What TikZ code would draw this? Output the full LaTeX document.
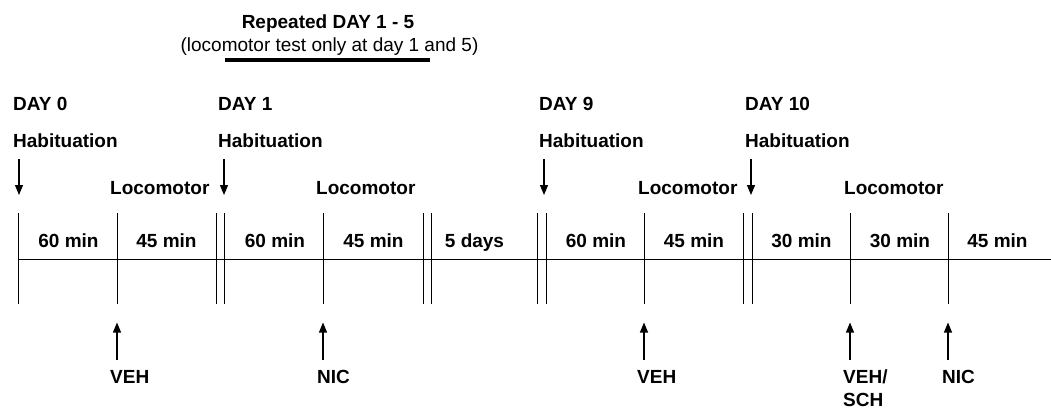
\documentclass[tikz,border=0pt]{standalone}
\usepackage{fontspec}
\setmainfont{Liberation Sans}
\usetikzlibrary{arrows.meta}

\tikzset{
	txt/.style={font=\fontsize{19}{23}\selectfont\bfseries, inner sep=0pt},
	lbl/.style={txt, anchor=base west},
	seg/.style={txt, anchor=base},
	tick/.style={line width=1pt},
	sessarrow/.style={line width=1.1pt, -{Triangle[length=10pt,width=8pt]}}
}

\begin{document}
\begin{tikzpicture}[x=1pt,y=-1pt]

	% ---- frame

	\useasboundingbox (0,0) rectangle (1051,408);

	% ---- parameters

	\def\ytop{213}
	\def\ybot{304}
	\def\yaxis{259}

	% ---- ticks

	\foreach \x [count=\i] in {18,117,216,224,323,423,431,537,546,644,743,752,850,948} {
		\coordinate (T\i) at (\x,\ytop);
		\coordinate (B\i) at (\x,\ybot);
		\draw[tick] (T\i) -- (B\i);
	}

	% ---- time axis

	\coordinate (A0) at (18,\yaxis);
	\coordinate (A1) at (1051,\yaxis);
	\draw[tick] (A0) -- (A1);

	% ---- intervals

	\foreach \x/\t [count=\i] in {68.5/60 min,166.5/45 min,275/60 min,373.5/45 min,474.5/5 days,
		596/60 min,694/45 min,801.5/30 min,900/30 min,997.5/45 min} {
		\node[seg] (I\i) at (\x,247) {\t};
	}

	% ---- days

	\foreach \x/\d [count=\i] in {13/0,218/1,539/9,745/10} {
		\node[lbl] (day\i) at (\x,110) {DAY \d};
		\node[lbl] (hab\i) at (\x,147) {Habituation};
	}

	% ---- habituation arrows

	\foreach \x [count=\i] in {19,224,544,751} {
		\coordinate (H\i) at (\x,159);
		\coordinate (Hs\i) at (\x,195);
		\draw[sessarrow] (H\i) -- (Hs\i);
	}

	% ---- locomotor

	\foreach \x [count=\i] in {110,316,638,844} {
		\node[lbl] (loco\i) at (\x,194) {Locomotor};
	}

	% ---- injections

	\foreach \x [count=\i] in {117,323,644,850,948} {
		\coordinate (J\i) at (\x,360);
		\coordinate (Js\i) at (\x,322.5);
		\draw[sessarrow] (J\i) -- (Js\i);
	}

	\node[lbl] (veh1) at (110,383) {VEH};
	\node[lbl] (nic1) at (317,383) {NIC};
	\node[lbl] (veh2) at (637,383) {VEH};
	\node[lbl] (veh3) at (843,383) {VEH/};
	\node[lbl] (sch) at (843,406) {SCH};
	\node[lbl] (nic2) at (942,383) {NIC};

	% ---- repeated days

	\node[txt, anchor=base] (rep) at (328,28) {Repeated DAY 1 - 5};
	\node[txt, font=\fontsize{19}{23}\selectfont, anchor=base] (note) at (329.5,51)
		{(locomotor test only at day 1 and 5)};

	\coordinate (U0) at (225,60);
	\coordinate (U1) at (430,60);
	\draw[line width=4pt] (U0) -- (U1);

\end{tikzpicture}
\end{document}
